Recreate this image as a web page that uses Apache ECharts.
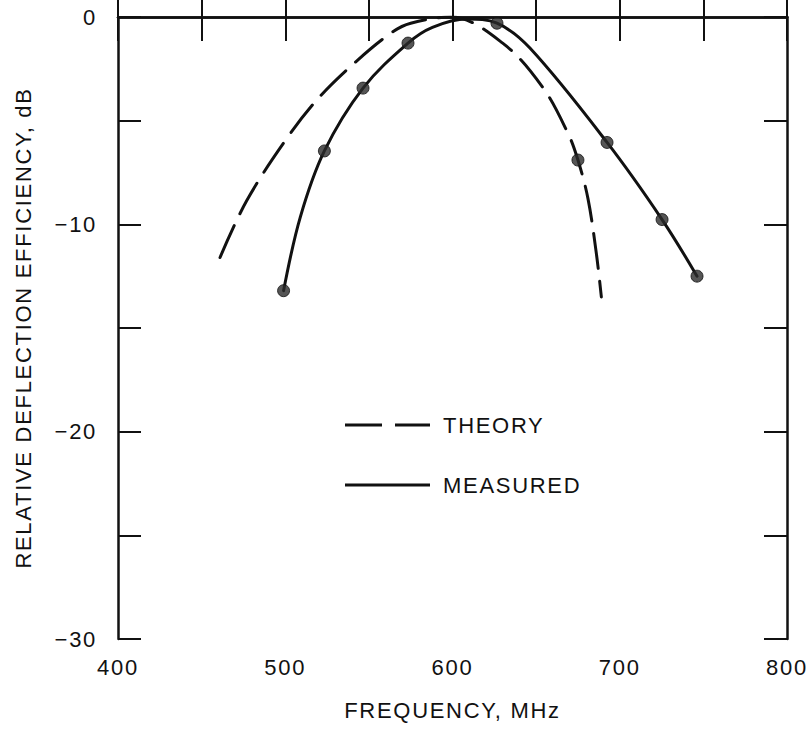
<!DOCTYPE html>
<html>
<head>
<meta charset="utf-8">
<script src="https://cdn.jsdelivr.net/npm/echarts@6/dist/echarts.min.js"></script>
<style>
  html, body { margin: 0; padding: 0; background: #fff; }
  #main { width: 809px; height: 730px; }
  /* the original lettering is slightly spaced out */
  #main text { letter-spacing: 1.7px; }
</style>
</head>
<body>
<div id="main"></div>
<script>
// theory curve (dashed)
var theoryFreq = [461, 477, 501, 520, 543, 564, 575, 599, 630, 654, 669, 675, 681, 686, 689];
var theoryDb   = [-11.6, -8.85, -5.85, -3.9, -2.1, -0.73, -0.3, 0, -1.26, -3.4, -5.6, -6.9, -8.76, -11.4, -13.5];

// measured curve (solid)
var measFreq = [499, 509, 523.4, 546.5, 573.4, 588, 608.7, 626.6, 646.3, 692.4, 725.3, 746.2];
var measDb   = [-13.2, -9.65, -6.46, -3.43, -1.26, -0.5, -0.1, -0.3, -1.5, -6.05, -9.77, -12.5];

// measured data points (dots)
var dotFreq = [499, 523.4, 546.5, 573.4, 626.6, 675, 692.4, 725.3, 746.2];
var dotDb   = [-13.2, -6.46, -3.43, -1.26, -0.3, -6.9, -6.05, -9.77, -12.5];

// axis ranges / ticks
var xMin = 400, xMax = 800, xStep = 50;
var yMin = -30, yMax = 0, yStep = 5;

function pairs(xs, ys) {
    var out = [];
    for (var i = 0; i < xs.length; i++) out.push([xs[i], ys[i]]);
    return out;
}

var ink = '#111';
var font = "'Liberation Sans', Arial, sans-serif";

var mychart = echarts.init(document.getElementById('main'), null, { renderer: 'svg' });

// legend keys: a long dash pair for theory, one bar for measured
var legendBase = {
    orient: 'vertical',
    left: 345,
    padding: 0,
    itemWidth: 85,
    itemHeight: 24,
    selectedMode: false,
    itemStyle: { color: ink, borderWidth: 0 },
    textStyle: { color: ink, fontSize: 22, fontFamily: font, padding: [0, 0, 0, 8] }
};

var option = {
    backgroundColor: '#fff',
    animation: false,
    grid: { left: 118, right: 22, top: 17, bottom: 91, containLabel: false },
    legend: [
        Object.assign({}, legendBase, {
            top: 414,
            data: [{ name: 'THEORY', icon: 'path://M0,0h37v3h-37zM50,0h35v3h-35z' }]
        }),
        Object.assign({}, legendBase, {
            top: 474,
            data: [{ name: 'MEASURED', icon: 'path://M0,0h85v3h-85z' }]
        })
    ],
    xAxis: [
        {
            type: 'value', min: xMin, max: xMax, interval: xStep,
            name: 'FREQUENCY, MHz', nameLocation: 'middle', nameGap: 60,
            nameTextStyle: { color: ink, fontSize: 22, fontFamily: font },
            axisLine: { lineStyle: { color: ink, width: 2.5 } },
            axisTick: { inside: true, length: 25, lineStyle: { color: ink, width: 2 } },
            axisLabel: {
                color: ink, fontSize: 22, fontFamily: font, margin: 17,
                formatter: function (v) { return v % 100 === 0 ? String(v) : ''; }
            },
            splitLine: { show: false }
        },
        {
            type: 'value', position: 'top', min: xMin, max: xMax, interval: xStep,
            axisLine: { lineStyle: { color: ink, width: 2.5 } },
            axisTick: { inside: true, length: 24, lineStyle: { color: ink, width: 2 } },
            axisLabel: { show: false },
            splitLine: { show: false }
        }
    ],
    yAxis: [
        {
            type: 'value', min: yMin, max: yMax, interval: yStep,
            name: 'RELATIVE DEFLECTION EFFICIENCY, dB', nameLocation: 'middle', nameGap: 84,
            nameTextStyle: { color: ink, fontSize: 22, fontFamily: font },
            axisLine: { lineStyle: { color: ink, width: 2.5 } },
            axisTick: { inside: true, length: 23, lineStyle: { color: ink, width: 2 } },
            axisLabel: {
                color: ink, fontSize: 22, fontFamily: font, margin: 21,
                formatter: function (v) {
                    if (v % 10 !== 0) return '';
                    return v < 0 ? '\u2212' + (-v) : String(v);
                }
            },
            splitLine: { show: false }
        },
        {
            type: 'value', position: 'right', min: yMin, max: yMax, interval: yStep,
            axisLine: { lineStyle: { color: ink, width: 2.5 } },
            axisTick: { inside: true, length: 23, lineStyle: { color: ink, width: 2 } },
            axisLabel: { show: false },
            splitLine: { show: false }
        }
    ],
    series: [
        {
            name: 'THEORY',
            type: 'line',
            data: pairs(theoryFreq, theoryDb),
            smooth: 0.35,
            symbol: 'none',
            lineStyle: { color: ink, width: 3, type: [35, 13], cap: 'round' },
            itemStyle: { color: ink }
        },
        {
            name: 'MEASURED',
            type: 'line',
            data: pairs(measFreq, measDb),
            smooth: 0.35,
            symbol: 'none',
            lineStyle: { color: ink, width: 3, cap: 'round' },
            itemStyle: { color: ink }
        },
        {
            name: 'points',
            type: 'scatter',
            data: pairs(dotFreq, dotDb),
            symbol: 'circle',
            symbolSize: 12,
            itemStyle: { color: '#2a2a2a', borderColor: ink, borderWidth: 1 },
            z: 5
        }
    ]
};

mychart.setOption(option);
</script>
</body>
</html>
